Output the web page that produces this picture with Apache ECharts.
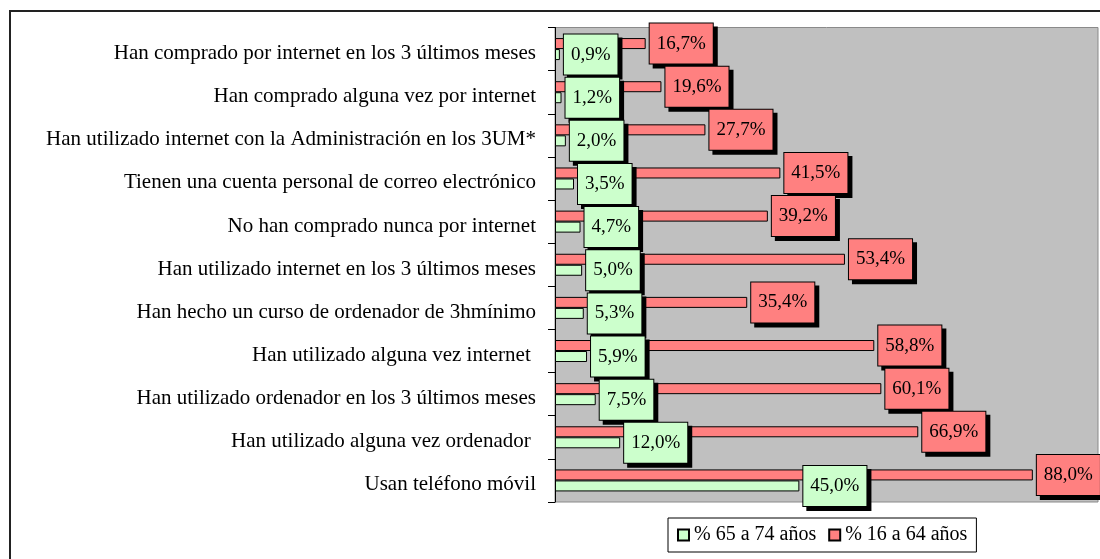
<!DOCTYPE html>
<html style="height: 100%">
<head>
    <meta charset="utf-8">
    <script type="text/javascript" src="https://cdn.jsdelivr.net/npm/echarts@6/dist/echarts.min.js"></script>
</head>
<body style="height: 100%; margin: 0; background: #fff">
<div id="container" style="width: 1100px; height: 559px"></div>
<script type="text/javascript">
    // categorias de arriba a abajo
    var categorias = [
        'Han comprado por internet en los 3 últimos meses',
        'Han comprado alguna vez por internet',
        'Han utilizado internet con la Administración en los 3UM*',
        'Tienen una cuenta personal de correo electrónico',
        'No han comprado nunca por internet',
        'Han utilizado internet en los 3 últimos meses',
        'Han hecho un curso de ordenador de 3hmínimo',
        'Han utilizado alguna vez internet ',
        'Han utilizado ordenador en los 3 últimos meses',
        'Han utilizado alguna vez ordenador ',
        'Usan teléfono móvil'
    ];
    var mayores = [0.9, 1.2, 2.0, 3.5, 4.7, 5.0, 5.3, 5.9, 7.5, 12.0, 45.0];
    var jovenes = [16.7, 19.6, 27.7, 41.5, 39.2, 53.4, 35.4, 58.8, 60.1, 66.9, 88.0];
    var nombres = ['% 65 a 74 años', '% 16 a 64 años'];

    var fuente = "'Liberation Serif', 'Times New Roman', serif";

    function etiqueta(color) {
        return {
            show: true,
            position: 'right',
            distance: 4,
            color: '#000',
            fontFamily: fuente,
            fontSize: 19,
            lineHeight: 20,
            padding: [10, 7, 10, 7],
            backgroundColor: color,
            borderColor: '#000',
            borderWidth: 1,
            shadowColor: '#000',
            shadowBlur: 0,
            shadowOffsetX: 4,
            shadowOffsetY: 4,
            formatter: function (p) {
                return p.value.toFixed(1).replace('.', ',') + '%';
            }
        };
    }

    var dom = document.getElementById('container');
    var myChart = echarts.init(dom);
    var option = {
        animation: false,
        graphic: [{
            type: 'rect',
            shape: {x: 10, y: 11, width: 1100, height: 560},
            style: {fill: 'none', stroke: '#222', lineWidth: 2},
            silent: true
        }],
        grid: {
            left: 555,
            top: 27.5,
            right: 2,
            bottom: 57,
            show: true,
            backgroundColor: '#c0c0c0',
            borderColor: '#8a8a8a',
            borderWidth: 1
        },
        legend: {
            data: nombres,
            left: 668,
            top: 518,
            orient: 'horizontal',
            backgroundColor: '#fff',
            borderColor: '#000',
            borderWidth: 1,
            padding: [7, 9, 7, 9],
            itemWidth: 11,
            itemHeight: 11,
            itemGap: 12,
            icon: 'rect',
            textStyle: {color: '#000', fontFamily: fuente, fontSize: 20}
        },
        xAxis: {
            type: 'value',
            min: 0,
            max: 100,
            show: false,
            splitLine: {show: false}
        },
        yAxis: {
            type: 'category',
            inverse: true,
            data: categorias,
            axisLine: {show: true, lineStyle: {color: '#000', width: 1}},
            axisTick: {show: true, length: 7, lineStyle: {color: '#000'}},
            axisLabel: {
                margin: 19,
                formatter: function (v) { return '{t|' + v + '}'; },
                rich: {
                    t: {color: '#000', fontFamily: fuente, fontSize: 21, padding: [9, 0, 0, 0]}
                }
            }
        },
        series: [
            {
                name: nombres[1],
                type: 'bar',
                data: jovenes,
                barWidth: 11,
                barGap: '0%',
                itemStyle: {color: '#ff8080', borderColor: '#000', borderWidth: 1},
                label: etiqueta('#ff8080')
            },
            {
                name: nombres[0],
                type: 'bar',
                data: mayores,
                barWidth: 11,
                barGap: '0%',
                itemStyle: {color: '#ccffcc', borderColor: '#000', borderWidth: 1},
                label: etiqueta('#ccffcc')
            }
        ]
    };
    myChart.setOption(option);
</script>
</body>
</html>
